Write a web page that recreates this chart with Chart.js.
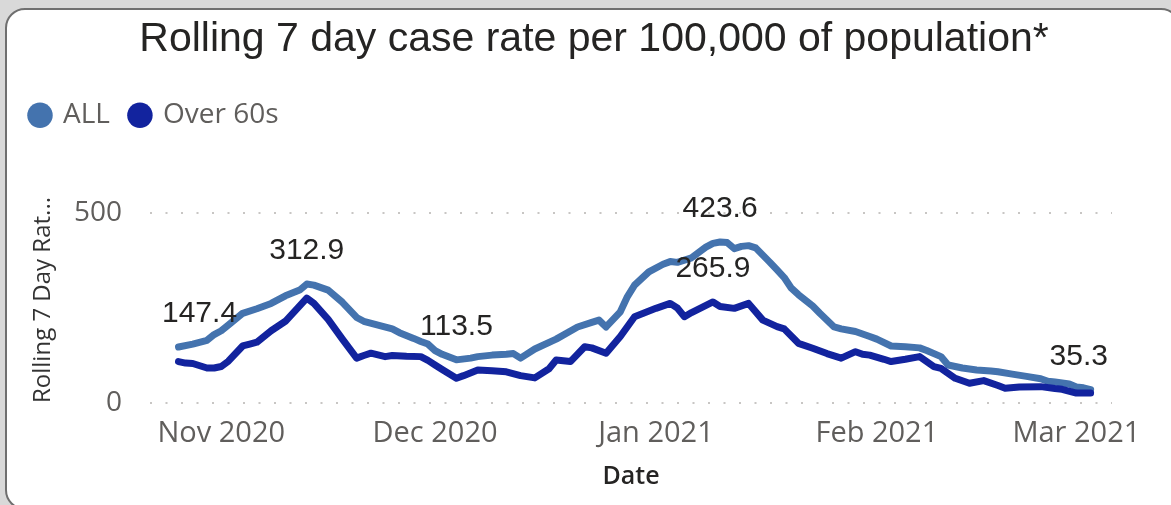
<!DOCTYPE html>
<html><head><meta charset="utf-8">
<script src="https://cdn.jsdelivr.net/npm/chart.js@4.4.1/dist/chart.umd.min.js"></script>
<style>
html,body{margin:0;padding:0;background:#d9d9d9;width:1171px;height:505px;overflow:hidden;}
#card{position:absolute;left:5px;top:8px;width:1176px;height:502px;background:#fff;border:2px solid #6f6f6f;border-radius:20px;box-sizing:border-box;}
#wrap{position:absolute;left:0;top:0;width:1171px;height:505px;}
</style></head><body>
<div id="card"></div>
<div id="wrap"><canvas id="c" width="1171" height="505"></canvas></div>
<script>
// x values are days counted from 1 Nov 2020 (day 0)
const titleText = 'Rolling 7 day case rate per 100,000 of population*';
const seriesNames = ['ALL', 'Over 60s'];

const allDays = [-6,-4,-2,-1,0,1,3,5,7,9,11,12,13,15,17,19,20,22,24,25,27,28,29,30,31,33,35,36,38,40,41,42,44,47,50,52,53,54,56,57,58,60,62,63,64,66,68,69,70,71,72,73,74,75,77,78,79,80,81,83,84,86,87,89,91,92,94,96,98,99,101,102,104,106,108,109,111,113,115,116,117,119,120,121,122];
const allValues = [147.4,155,165,180,190,205,236,248,262,282,297,312.9,310,297,265,225,215,205,195,185,170,162,155,138,128,113.5,118,122,126,128,130,118,142,168,200,212,218,200,240,280,310,345,365,372,370,382,410,420,423.6,422,406,412,414,408,370,350,330,302,285,255,236,200,195,188,175,168,150,148,145,138,122,100,92,87,84,82,76,70,64,57,55,50,42,40,35.3];

const over60Days = [-6,-5,-4,-2,-1,0,1,3,4,5,7,9,10,12,13,15,17,19,20,21,23,24,26,28,29,30,31,33,34,36,38,40,42,44,46,47,49,51,52,54,56,58,61,63,64,65,66,69,70,72,74,76,78,79,81,83,85,87,89,90,91,93,94,96,98,100,101,103,105,107,109,110,112,115,117,118,120,122];
const over60Values = [109,105,104,92,92,96,110,150,155,160,190,215,235,276,262,220,168,118,125,131,122,125,123,122,112,100,88,65,72,87,85,82,72,66,90,113,109,148,145,131,175,227,249,262,250,227,238,265.9,254,249,262,218,201,195,157,144,130,118,135,128,126,115,109,115,122,96,91,65,52,59,46,39,42,43,38,36,26,26];

// points that carry a value label
const allLabelDays = [-6, 12, 33, 70, 122];
const over60LabelDays = [69];

// axis ticks
const monthTickDays = [0, 30, 61, 92, 120];
const monthTickLabels = ['Nov 2020', 'Dec 2020', 'Jan 2021', 'Feb 2021', 'Mar 2021'];
const yTickValues = [0, 500];

const ALL_COLOR = '#4473AE';
const OVER60_COLOR = '#12239E';

const toXY = (days, vals) => days.map((d, i) => ({x: d, y: vals[i]}));

const valueLabelPlugin = {
  id: 'valueLabels',
  afterDatasetsDraw(chart) {
    const {ctx, chartArea} = chart;
    ctx.save();
    ctx.font = '30px "Liberation Sans", Arial, sans-serif';
    ctx.fillStyle = '#252423';
    ctx.textAlign = 'center';
    ctx.textBaseline = 'middle';
    chart.data.datasets.forEach((ds, di) => {
      const meta = chart.getDatasetMeta(di);
      (ds.labelDays || []).forEach(day => {
        const idx = ds.data.findIndex(p => p.x === day);
        if (idx < 0) return;
        const el = meta.data[idx];
        const text = ds.data[idx].y.toFixed(1);
        const w = ctx.measureText(text).width;
        let x = Math.max(chartArea.left + 12 + w / 2, Math.min(chartArea.right - 4 - w / 2, el.x));
        ctx.fillText(text, x, el.y - 33);
      });
    });
    ctx.restore();
  }
};

const yTickFont = {family: '"Open Sans", sans-serif', size: 28};
const xTickFont = {family: '"Open Sans", sans-serif', size: 29};

new Chart(document.getElementById('c'), {
  type: 'line',
  data: {
    datasets: [
      {label: seriesNames[0], data: toXY(allDays, allValues), labelDays: allLabelDays,
       borderColor: ALL_COLOR, backgroundColor: ALL_COLOR, borderWidth: 7, pointRadius: 0,
       tension: 0, borderJoinStyle: 'round', borderCapStyle: 'round', order: 2},
      {label: seriesNames[1], data: toXY(over60Days, over60Values), labelDays: over60LabelDays,
       borderColor: OVER60_COLOR, backgroundColor: OVER60_COLOR, borderWidth: 7, pointRadius: 0,
       tension: 0, borderJoinStyle: 'round', borderCapStyle: 'round', order: 1}
    ]
  },
  options: {
    responsive: false,
    animation: false,
    devicePixelRatio: 1,
    layout: {padding: {left: 10, right: -7, top: 10, bottom: 10}},
    plugins: {
      title: {display: true, text: titleText, color: '#252423',
              font: {family: '"Liberation Sans", Arial, sans-serif', size: 41, weight: 'normal'},
              padding: {top: 5, bottom: 16}},
      legend: {display: true, position: 'top', align: 'start',
               labels: {usePointStyle: true, pointStyle: 'circle', boxWidth: 18, boxHeight: 18, padding: 21,
                        color: '#605E5C', font: {family: '"Open Sans", sans-serif', size: 28},
                        sort: (a, b) => a.datasetIndex - b.datasetIndex,
                        generateLabels: (chart) => Chart.defaults.plugins.legend.labels.generateLabels(chart)
                          .map(l => Object.assign(l, {lineWidth: 0}))}},
      tooltip: {enabled: false}
    },
    scales: {
      x: {type: 'linear', min: -10, max: 125,
          grid: {display: false, drawTicks: false}, border: {display: false},
          afterBuildTicks: s => { s.ticks = monthTickDays.map(v => ({value: v})); },
          ticks: {callback: v => monthTickLabels[monthTickDays.indexOf(v)], padding: 13, color: '#605E5C',
                  font: xTickFont, maxRotation: 0, autoSkip: false},
          title: {display: true, text: 'Date', color: '#252423',
                  font: {family: '"Open Sans", sans-serif', size: 25, weight: '600'}, padding: {top: 12, bottom: 3}},
          afterFit: s => { s.height = 92; }},
      y: {type: 'linear', min: 0, max: 694,
          afterBuildTicks: s => { s.ticks = yTickValues.map(v => ({value: v})); },
          ticks: {padding: 28, color: '#605E5C', font: yTickFont},
          grid: {drawTicks: false, color: '#C8C6C4', lineWidth: 2},
          border: {display: false, dash: [2, 13.5]},
          title: {display: true, text: 'Rolling 7 Day Rat...', align: 'start', color: '#333333',
                  font: {family: '"Open Sans", sans-serif', size: 24}, padding: {top: 18.6, bottom: 0}},
          afterFit: s => { s.width = 140; }},
      yRight: {type: 'linear', position: 'right', display: true,
               ticks: {display: false}, grid: {display: false, drawTicks: false}, border: {display: false},
               afterFit: s => { s.width = 66; }}
    }
  },
  plugins: [valueLabelPlugin]
});
</script>
</body></html>
